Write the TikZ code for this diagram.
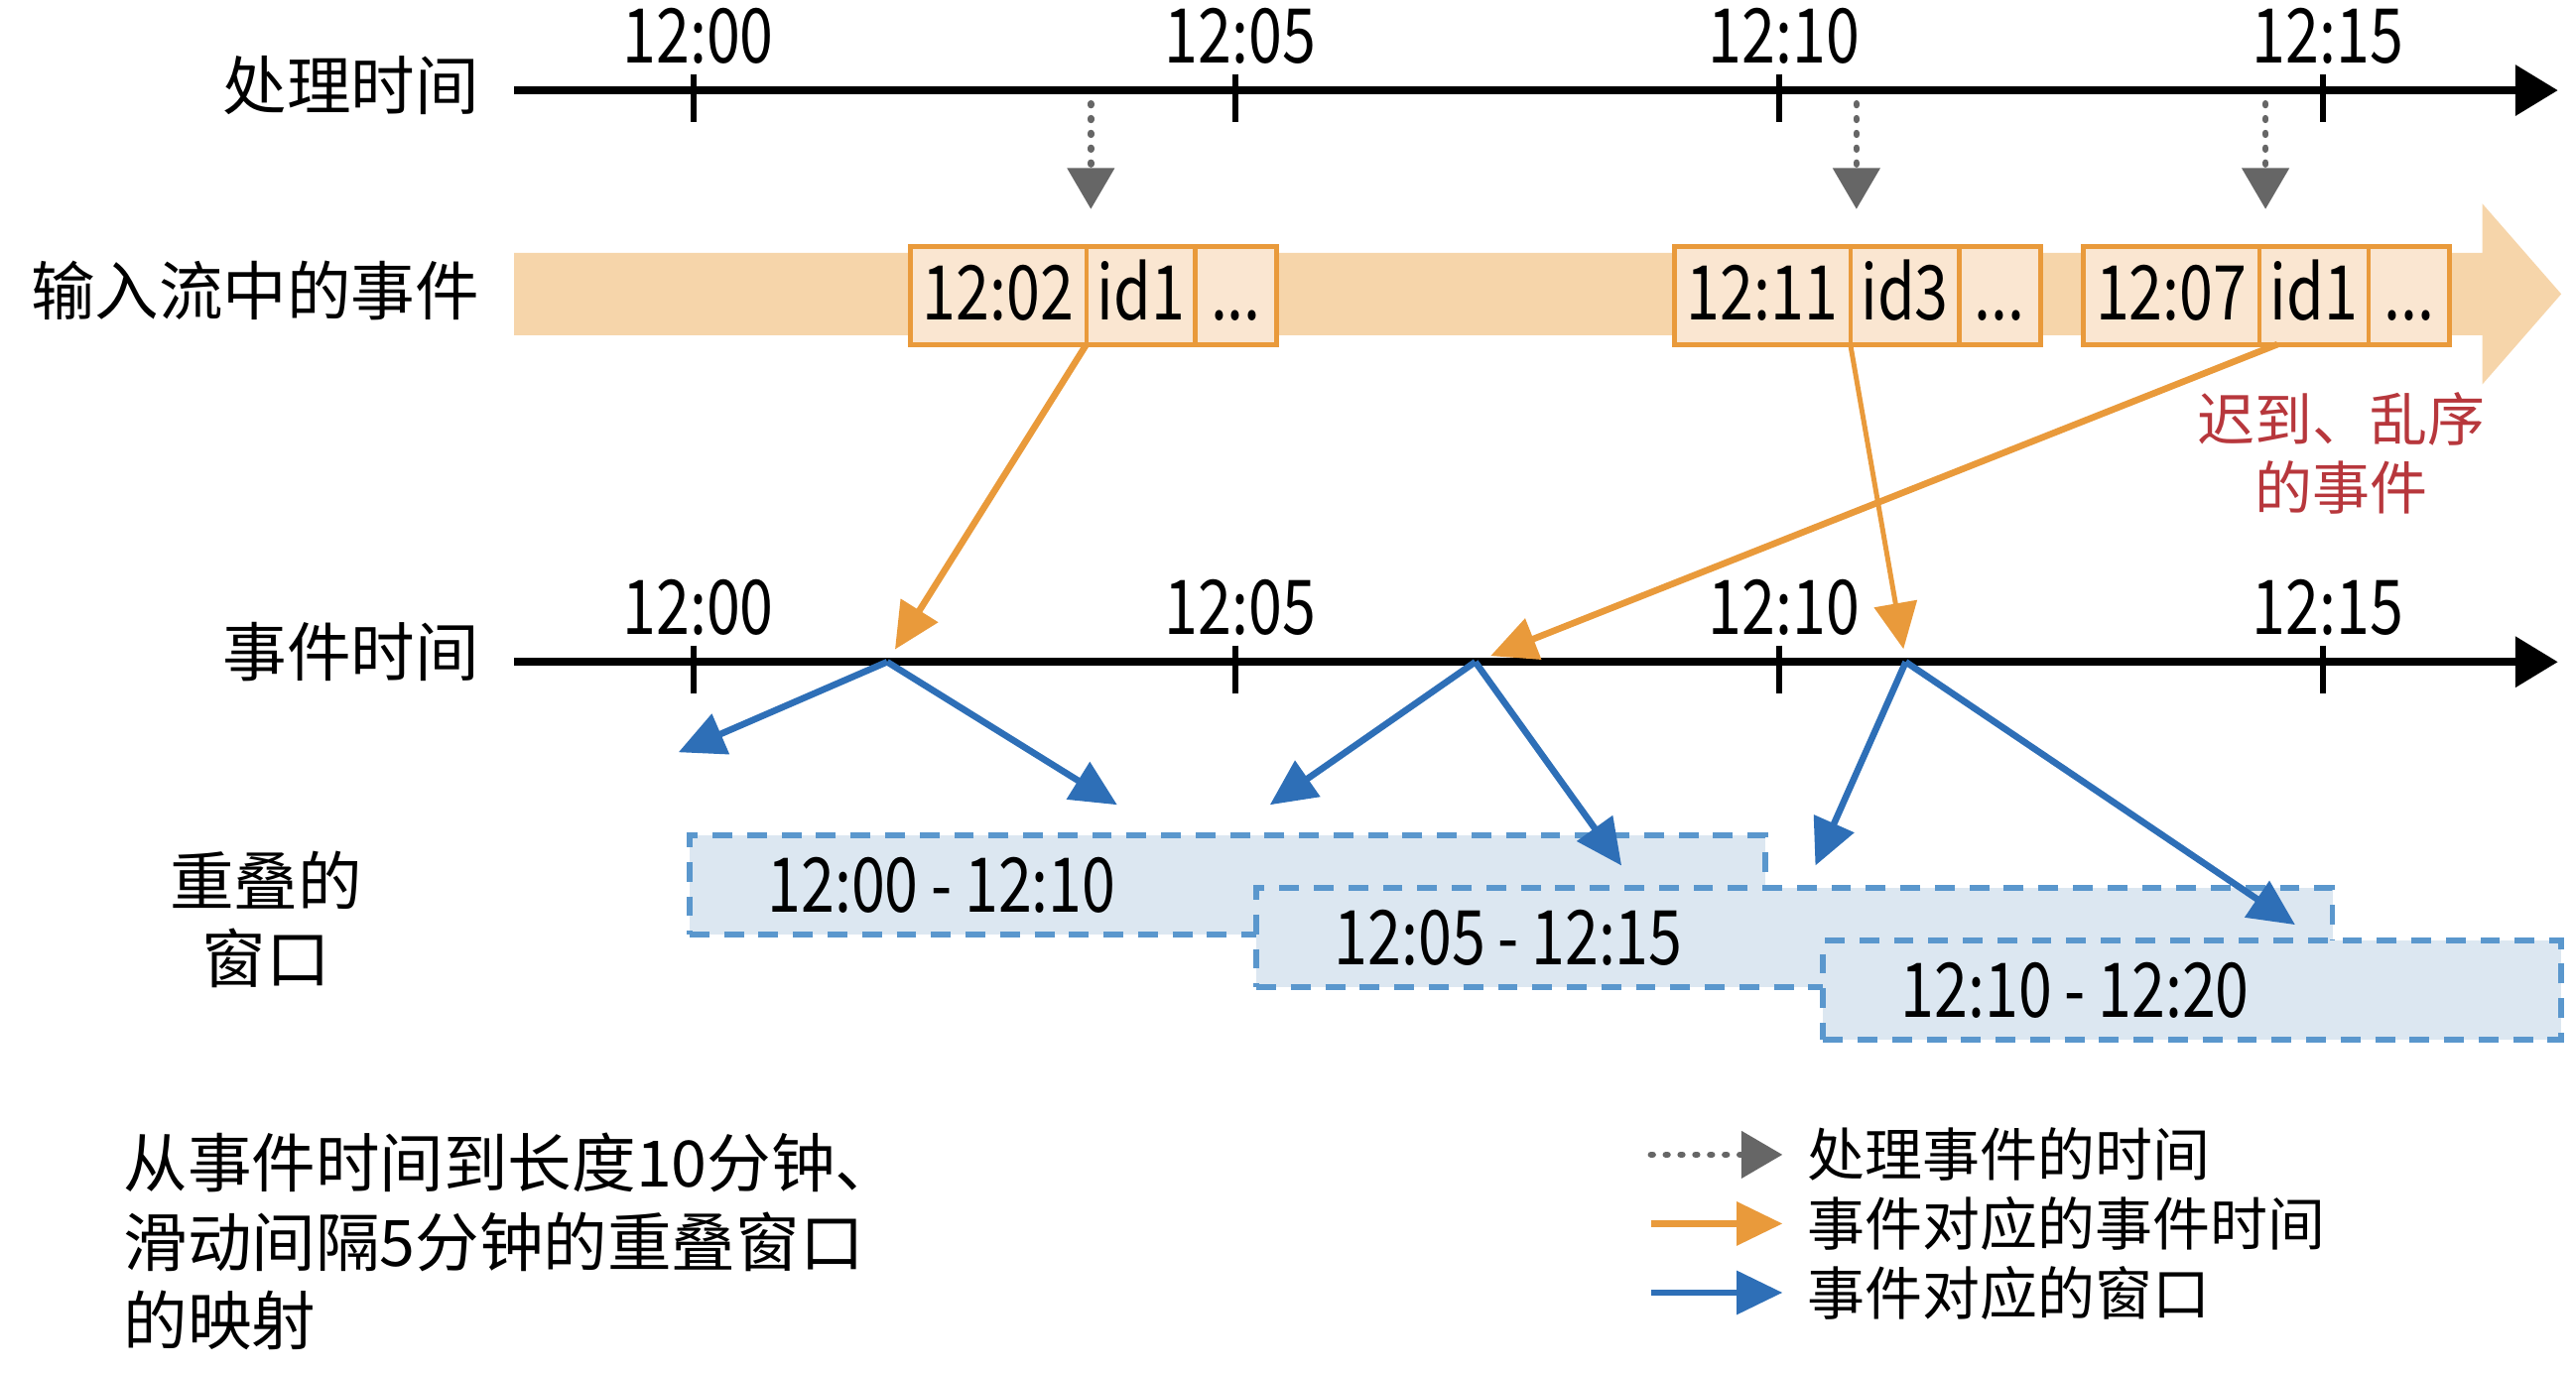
\documentclass[tikz,border=0pt]{standalone}
\usepackage{fontspec}
\setmainfont{Noto Sans CJK SC}
\newfontfamily\cjk{Noto Sans CJK SC}
\newfontfamily\chiffres[FakeStretch=0.8]{Noto Sans CJK SC}
\usetikzlibrary{arrows.meta,positioning}

\definecolor{flux}{HTML}{F6D5AA}
\definecolor{caseev}{HTML}{FAE6D1}
\definecolor{orangeev}{HTML}{E99A3B}
\definecolor{bleuev}{HTML}{2E6FB7}
\definecolor{fondfen}{HTML}{DCE7F1}
\definecolor{bordfen}{HTML}{5A97CD}
\definecolor{grisfl}{HTML}{666666}
\definecolor{rouge}{HTML}{B7373C}

\tikzset{
  axe/.style={line width=5pt,-{Triangle[length=26pt,width=30pt]}},
  graduation/.style={line width=3.5pt},
  heure/.style={font=\chiffres\fontsize{46pt}{50pt}\selectfont, inner sep=0pt},
  titre/.style={font=\cjk\fontsize{39pt}{47pt}\selectfont, inner sep=0pt},
  legende/.style={font=\cjk\fontsize{35pt}{42pt}\selectfont, inner sep=0pt, anchor=west},
  cellule/.style={heure, draw=orangeev, line width=1.3pt, fill=caseev,
    minimum height=58pt, text height=30pt, text depth=0pt},
  pointille/.style={grisfl, line width=4pt, dash pattern=on 1pt off 8pt, line cap=round,
    -{Triangle[length=25pt,width=28pt]}},
  flecheor/.style={orangeev, line width=4pt, -{Triangle[length=28pt,width=26pt]}},
  flechebl/.style={bleuev, line width=4pt, -{Triangle[length=28pt,width=26pt]}},
  fenetre/.style={draw=bordfen, fill=fondfen, line width=3.5pt,
    dash pattern=on 12pt off 9pt, minimum height=60pt, inner sep=0pt, anchor=north west},
}

\begin{document}
\begin{tikzpicture}[x=1pt,y=-1pt]
\useasboundingbox (0,0) rectangle (1568,836);

% Flux d'entree
\fill[flux] (313,154) -- (1511,154) -- (1511,124) -- (1559,179)
  -- (1511,234) -- (1511,204) -- (313,204) -- cycle;
\node[titre, anchor=east] (lblflux) at (292,177) {输入流中的事件};

% Evenements
\foreach \n/\x/\h/\lab in {1/554/12:02/id1, 2/1019/12:11/id3, 3/1268/12:07/id1}
{
\node[cellule, minimum width=106pt, anchor=west] (bt\n) at (\x,180) {\h};
\node[cellule, minimum width=65pt, right=0pt of bt\n] (bi\n) {\lab};
\node[cellule, minimum width=48pt, right=0pt of bi\n] (bd\n) {...};
\draw[orangeev, line width=3pt] (bt\n.north west) rectangle (bd\n.south east);
}

% Temps de traitement
\coordinate (tr0) at (313,55);
\coordinate (tr1) at (1557,55);
\draw[axe] (tr0) -- (tr1);
\node[titre, anchor=east] (lbltr) at (292,52) {处理时间};

% Temps des evenements
\coordinate (ev0) at (313,403);
\coordinate (ev1) at (1557,403);
\draw[axe] (ev0) -- (ev1);
\node[titre, anchor=east] (lblev) at (292,397) {事件时间};

% Graduations
\foreach \i/\x/\t in {0/422/12:00, 1/752/12:05, 2/1083/12:10, 3/1414/12:15}
{
\draw[graduation] (\x,45) -- (\x,74);
\node[heure] (htr\i) at (\x+3,22) {\t};
\draw[graduation] (\x,393) -- (\x,422);
\node[heure] (hev\i) at (\x+3,370) {\t};
}

% Instants de traitement
\foreach \n/\x in {1/664, 2/1130, 3/1379}
{
\coordinate (trait\n) at (\x,55);
\draw[pointille, shorten <=8pt, shorten >=23pt] (trait\n) -- (trait\n |- bt\n.north);
}

% Instants des evenements
\coordinate (t02) at (540,403);
\coordinate (t07) at (898,403);
\coordinate (t11) at (1160,403);

\draw[flecheor, shorten >=9pt] (bt1.south east) -- (t02);
\draw[flecheor, line width=3pt, shorten >=8pt] (bt2.south east) -- (t11);
\draw[flecheor, shorten >=10pt] ([xshift=11pt]bt3.south east) -- (t07);

\node[legende, anchor=center, align=center, text=rouge] (retard) at (1425,276)
{迟到、乱序\\的事件};

% Fenetres
\node[fenetre, minimum width=655pt] (w1) at (418,507) {};
\node[heure, anchor=west] (lw1) at ([xshift=49pt]w1.west) {12:00\,-\,12:10};
\node[fenetre, minimum width=655pt] (w2) at (763,539) {};
\node[heure, anchor=west] (lw2) at ([xshift=49pt]w2.west) {12:05\,-\,12:15};
\node[fenetre, minimum width=449pt] (w3) at (1108,571) {};
\node[heure, anchor=west] (lw3) at ([xshift=49pt]w3.west) {12:10\,-\,12:20};

\node[titre, align=center] (lblfen) at (162,560) {重叠的\\窗口};

% Affectation aux fenetres
\coordinate (f1) at (413,458);
\coordinate (f2) at (680,490);
\coordinate (f3) at (773,490);
\coordinate (f4) at (987,527);
\coordinate (f5) at (1105,527);
\coordinate (f6) at (1397,563);
\draw[flechebl] (t02) -- (f1);
\draw[flechebl] (t02) -- (f2);
\draw[flechebl] (t07) -- (f3);
\draw[flechebl] (t07) -- (f4);
\draw[flechebl] (t11) -- (f5);
\draw[flechebl] (t11) -- (f6);

% Note
\node[font=\cjk\fontsize{39pt}{48pt}\selectfont, inner sep=0pt, anchor=west, align=left]
(note) at (75,756) {从事件时间到长度10分钟、\\滑动间隔5分钟的重叠窗口\\的映射};

% Legende
\coordinate (lg1) at (1005,703);
\coordinate (lg1f) at (1085,703);
\coordinate (lg2) at (1005,745);
\coordinate (lg2f) at (1085,745);
\coordinate (lg3) at (1005,787);
\coordinate (lg3f) at (1085,787);
\draw[pointille] (lg1) -- (lg1f);
\draw[flecheor] (lg2) -- (lg2f);
\draw[flechebl] (lg3) -- (lg3f);
\node[legende] (txt1) at (1100,703) {处理事件的时间};
\node[legende] (txt2) at (1100,745) {事件对应的事件时间};
\node[legende] (txt3) at (1100,787) {事件对应的窗口};

\end{tikzpicture}
\end{document}
